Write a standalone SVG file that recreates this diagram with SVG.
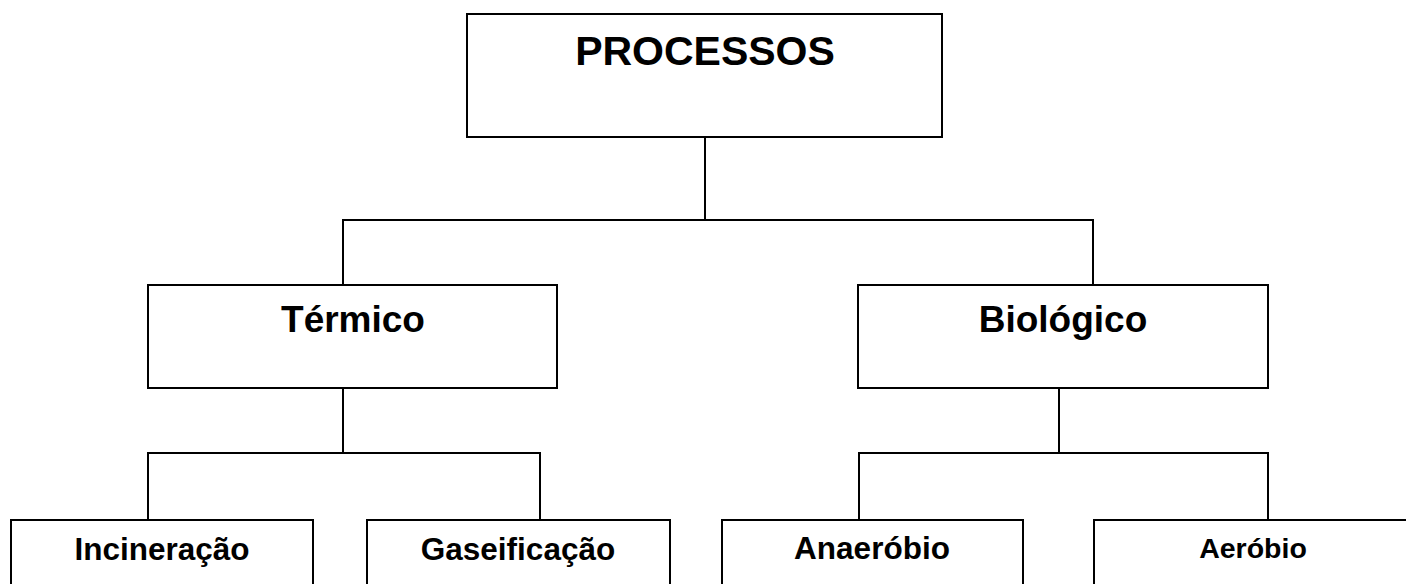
<svg xmlns="http://www.w3.org/2000/svg" width="1406" height="584" viewBox="0 0 1406 584">
<style>
.box{fill:#fff;stroke:#000;stroke-width:2}
.ln{fill:none;stroke:#000;stroke-width:2}
text{font-family:"Liberation Sans",Arial,sans-serif;font-weight:bold;fill:#000;text-anchor:middle}
</style>
<rect width="1406" height="584" fill="#fff"/>
<g id="connectors">
<polyline class="ln" points="705,137 705,220"/>
<polyline class="ln" points="343,285 343,220 1093,220 1093,285"/>
<polyline class="ln" points="343,388 343,453"/>
<polyline class="ln" points="148,520 148,453 540,453 540,520"/>
<polyline class="ln" points="1059,388 1059,453"/>
<polyline class="ln" points="859,520 859,453 1268,453 1268,520"/>
</g>
<g id="processos">
<rect class="box" x="467" y="14" width="475" height="123"/>
<text x="705" y="65" font-size="41">PROCESSOS</text>
</g>
<g id="termico">
<rect class="box" x="148" y="285" width="409" height="103"/>
<text x="353" y="332" font-size="37">Térmico</text>
</g>
<g id="biologico">
<rect class="box" x="858" y="285" width="410" height="103"/>
<text x="1063" y="332" font-size="37">Biológico</text>
</g>
<g id="incineracao">
<rect class="box" x="11" y="520" width="302" height="80"/>
<text x="162" y="560" font-size="31.5">Incineração</text>
</g>
<g id="gaseificacao">
<rect class="box" x="367" y="520" width="303" height="80"/>
<text x="518" y="560" font-size="31.5">Gaseificação</text>
</g>
<g id="anaerobio">
<rect class="box" x="722" y="520" width="301" height="80"/>
<text x="872" y="559" font-size="31.5">Anaeróbio</text>
</g>
<g id="aerobio">
<rect class="box" x="1094" y="520" width="318" height="80"/>
<text x="1253" y="558" font-size="28.5">Aeróbio</text>
</g>
</svg>
